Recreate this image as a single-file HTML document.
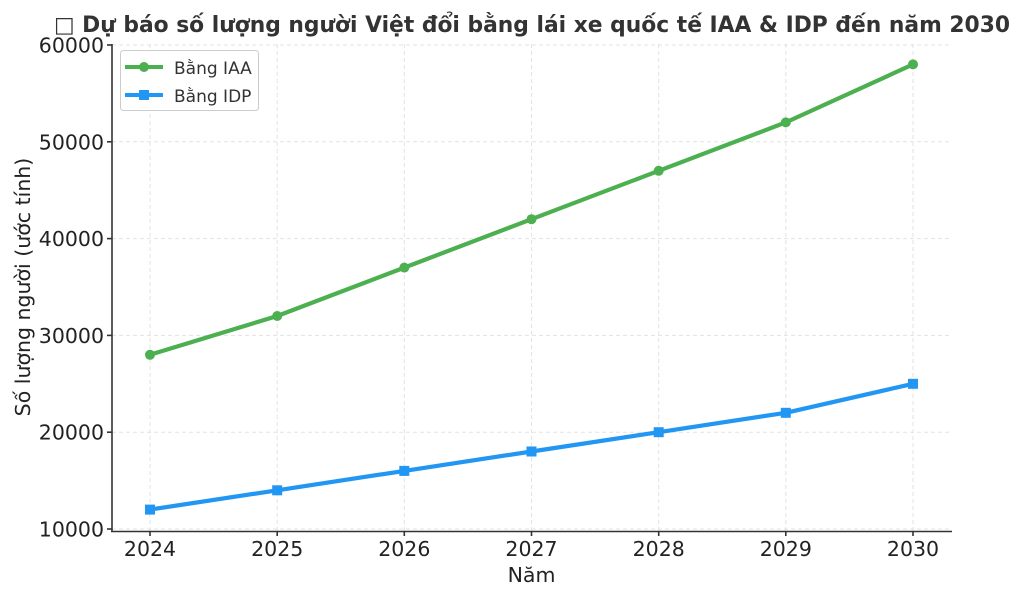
<!DOCTYPE html>
<html><head><meta charset="utf-8"><style>
html,body{margin:0;padding:0;background:#fff;}
svg{display:block;font-family:"DejaVu Sans","Liberation Sans","Noto Sans CJK SC",sans-serif;}
</style></head><body>
<svg width="1024" height="597" viewBox="0 0 1024 597" xmlns="http://www.w3.org/2000/svg">
<rect width="1024" height="597" fill="#fff"/>
<text x="532" y="32" text-anchor="middle" font-size="21.8" font-weight="bold" fill="#333">□ Dự báo số lượng người Việt đổi bằng lái xe quốc tế IAA &amp; IDP đến năm 2030</text>
<g stroke="#e3e3e3" stroke-width="1" stroke-dasharray="4,3">
<line x1="150" y1="44" x2="150" y2="531"/><line x1="277.2" y1="44" x2="277.2" y2="531"/>
<line x1="404.3" y1="44" x2="404.3" y2="531"/><line x1="531.5" y1="44" x2="531.5" y2="531"/>
<line x1="658.7" y1="44" x2="658.7" y2="531"/><line x1="785.8" y1="44" x2="785.8" y2="531"/>
<line x1="913" y1="44" x2="913" y2="531"/>
<line x1="112" y1="45" x2="952" y2="45"/><line x1="112" y1="141.8" x2="952" y2="141.8"/>
<line x1="112" y1="238.6" x2="952" y2="238.6"/><line x1="112" y1="335.4" x2="952" y2="335.4"/>
<line x1="112" y1="432.2" x2="952" y2="432.2"/><line x1="112" y1="529" x2="952" y2="529"/>
</g>
<g stroke="#333" stroke-width="1.6">
<line x1="112" y1="44" x2="112" y2="532"/><line x1="111" y1="531.5" x2="952" y2="531.5"/>
<line x1="107" y1="45" x2="112" y2="45"/><line x1="107" y1="141.8" x2="112" y2="141.8"/>
<line x1="107" y1="238.6" x2="112" y2="238.6"/><line x1="107" y1="335.4" x2="112" y2="335.4"/>
<line x1="107" y1="432.2" x2="112" y2="432.2"/><line x1="107" y1="529" x2="112" y2="529"/>
<line x1="150" y1="531" x2="150" y2="536"/><line x1="277.2" y1="531" x2="277.2" y2="536"/>
<line x1="404.3" y1="531" x2="404.3" y2="536"/><line x1="531.5" y1="531" x2="531.5" y2="536"/>
<line x1="658.7" y1="531" x2="658.7" y2="536"/><line x1="785.8" y1="531" x2="785.8" y2="536"/>
<line x1="913" y1="531" x2="913" y2="536"/>
</g>
<g font-size="20.5" fill="#222" text-anchor="end">
<text x="104" y="52.5">60000</text><text x="104" y="149.3">50000</text>
<text x="104" y="246.1">40000</text><text x="104" y="342.9">30000</text>
<text x="104" y="439.7">20000</text><text x="104" y="536.5">10000</text>
</g>
<g font-size="20.5" fill="#222" text-anchor="middle">
<text x="150" y="556">2024</text><text x="277.2" y="556">2025</text>
<text x="404.3" y="556">2026</text><text x="531.5" y="556">2027</text>
<text x="658.7" y="556">2028</text><text x="785.8" y="556">2029</text>
<text x="913" y="556">2030</text>
<text x="531.5" y="582">Năm</text>
<text transform="translate(30,287) rotate(-90)">Số lượng người (ước tính)</text>
</g>
<polyline fill="none" stroke="#4caf50" stroke-width="4.2" stroke-linejoin="round" points="150,354.8 277.2,316 404.3,267.6 531.5,219.2 658.7,170.8 785.8,122.4 913,64.4"/>
<g fill="#4caf50">
<circle cx="150" cy="354.8" r="5"/><circle cx="277.2" cy="316" r="5"/><circle cx="404.3" cy="267.6" r="5"/>
<circle cx="531.5" cy="219.2" r="5"/><circle cx="658.7" cy="170.8" r="5"/><circle cx="785.8" cy="122.4" r="5"/><circle cx="913" cy="64.4" r="5"/>
</g>
<polyline fill="none" stroke="#2196f3" stroke-width="4.2" stroke-linejoin="round" points="150,509.6 277.2,490.3 404.3,470.9 531.5,451.5 658.7,432.2 785.8,412.8 913,383.8"/>
<g fill="#2196f3">
<rect x="145" y="504.6" width="10" height="10"/><rect x="272.2" y="485.3" width="10" height="10"/><rect x="399.3" y="465.9" width="10" height="10"/>
<rect x="526.5" y="446.5" width="10" height="10"/><rect x="653.7" y="427.2" width="10" height="10"/><rect x="780.8" y="407.8" width="10" height="10"/><rect x="908" y="378.8" width="10" height="10"/>
</g>
<rect x="120.5" y="50.5" width="138" height="60" rx="3" fill="#fff" fill-opacity="0.85" stroke="#ccc" stroke-width="1"/>
<line x1="125" y1="67" x2="163" y2="67" stroke="#4caf50" stroke-width="4"/><circle cx="144" cy="67" r="5" fill="#4caf50"/>
<line x1="125" y1="95" x2="163" y2="95" stroke="#2196f3" stroke-width="4"/><rect x="139" y="90" width="10" height="10" fill="#2196f3"/>
<text x="174" y="74" font-size="17" fill="#333">Bằng IAA</text>
<text x="174" y="102" font-size="17" fill="#333">Bằng IDP</text>
</svg>
</body></html>
